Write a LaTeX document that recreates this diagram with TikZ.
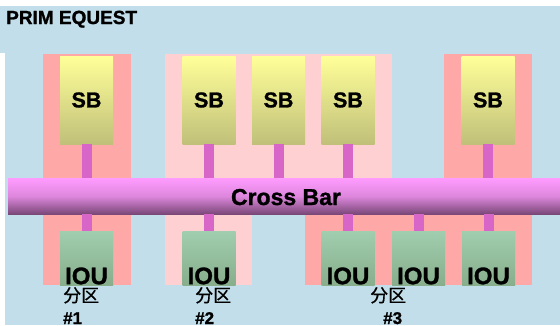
\documentclass[tikz,border=0pt]{standalone}
\usepackage{fontspec}
\setmainfont{Liberation Sans}
\newfontfamily\cjk{Noto Sans CJK SC}[FakeBold=0.6]
\newfontfamily\heavy{Liberation Sans Bold}[FakeBold=1.2]
\definecolor{bgblue}{HTML}{C2DEEA}
\definecolor{darkpink}{HTML}{FFA8A8}
\definecolor{lightpink}{HTML}{FFD0D2}
\definecolor{sbtop}{HTML}{FFFF99}
\definecolor{sbbot}{HTML}{C0C07A}
\definecolor{stemcol}{HTML}{D865C8}
\definecolor{ioutop}{HTML}{A0CEAE}
\definecolor{ioubot}{HTML}{88AE8C}
\definecolor{bartop}{HTML}{FF9CFF}
\definecolor{barbot}{HTML}{7A4878}
\begin{document}
\begin{tikzpicture}[x=1pt,y=-1pt,
  sbbox/.style={rectangle,minimum width=53pt,minimum height=88pt,inner sep=0pt,
    top color=sbtop,bottom color=sbbot,draw=none,
    font=\fontsize{21.5}{24}\selectfont\heavy},
  ioubox/.style={rectangle,minimum width=53pt,minimum height=54pt,inner sep=0pt,
    top color=ioutop,bottom color=ioubot,draw=none,
    label={[font=\fontsize{24}{28}\selectfont\heavy,anchor=base,inner sep=0pt,yshift=1pt]south:IOU}},
  stem/.style={draw=stemcol,line width=10pt},
  cjklab/.style={anchor=base west,inner sep=0pt,font=\fontsize{18}{20}\selectfont\cjk},
  numlab/.style={anchor=base west,inner sep=0pt,font=\fontsize{17}{20}\selectfont\heavy}]
\useasboundingbox (0,0) rectangle (560,325);
% background
\fill[white] (0,0) rectangle (560,325);
\fill[bgblue] (0,6) rectangle (560,53);
\fill[bgblue] (5,53) rectangle (560,325);
% title
\node[anchor=base west,inner sep=0pt,font=\fontsize{19}{22}\selectfont\heavy] (title) at (6,24) {PRIM EQUEST};
% partitions
\fill[darkpink] (43,54) rectangle (131,285);
\fill[lightpink] (165,54) rectangle (392,196);
\fill[lightpink] (165,196) rectangle (252,285);
\fill[darkpink] (444,54) rectangle (532,196);
\fill[darkpink] (305,196) rectangle (532,285);
% SB boxes
\node[sbbox] (sb1) at (86.5,100) {SB};
\node[sbbox] (sb2) at (209,100) {SB};
\node[sbbox] (sb3) at (278.5,100) {SB};
\node[sbbox] (sb4) at (348,100) {SB};
\node[sbbox] (sb5) at (488,100) {SB};
% IOU boxes
\node[ioubox] (iou1) at (86.5,258) {};
\node[ioubox] (iou2) at (209,258) {};
\node[ioubox] (iou3) at (348,258) {};
\node[ioubox] (iou4) at (418.5,258) {};
\node[ioubox] (iou5) at (488.5,258) {};
% cross bar
\node[rectangle,minimum width=552pt,minimum height=36pt,inner sep=0pt,
  top color=bartop,bottom color=barbot,middle color=bartop!75!barbot,draw=none] (bar) at (284,196) {};
\node[anchor=base,inner sep=0pt,font=\fontsize{23}{26}\selectfont\heavy] (bartext) at (286,205) {Cross Bar};
% stems
\foreach \s in {sb1,sb2,sb3,sb4,sb5}
  \draw[stem] (\s.south) -- (\s.south |- bar.north);
\foreach \i in {iou1,iou2,iou3,iou4,iou5}
  \draw[stem] (bar.south -| \i.north) -- (\i.north);
% partition labels
\node[cjklab] (p1a) at (63,302) {分区};
\node[numlab] (p1b) at (63,324) {\#1};
\node[cjklab] (p2a) at (195,302) {分区};
\node[numlab] (p2b) at (195,324) {\#2};
\node[cjklab] (p3a) at (370,302) {分区};
\node[numlab] (p3b) at (383,324) {\#3};
\end{tikzpicture}
\end{document}
